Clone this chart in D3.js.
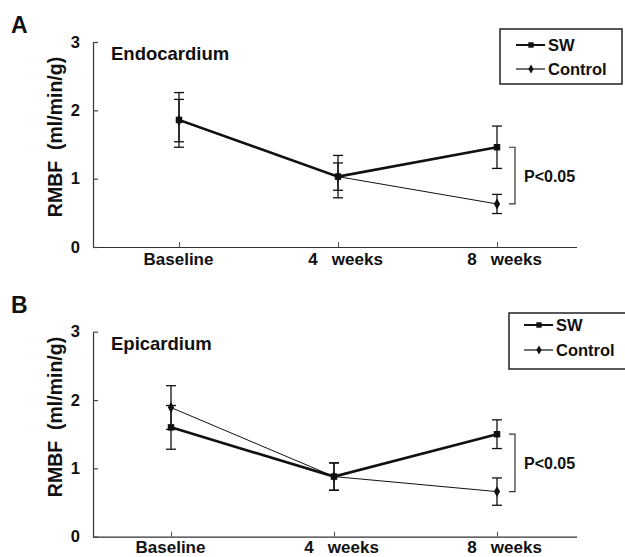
<!DOCTYPE html>
<html>
<head>
<meta charset="utf-8">
<script src="https://cdn.jsdelivr.net/npm/d3@7"></script>
<style>
  body { margin: 0; background: #fff; }
  text { font-family: "Liberation Sans", Arial, sans-serif; font-weight: bold; fill: #111; }
</style>
</head>
<body>
<script>
// time points (weeks) and their labels
var weeks = [0, 4, 8];
var weekLabels = ["Baseline", "4   weeks", "8   weeks"];

// Endocardium (panel A)
var endoSW = [1.86, 1.03, 1.46];
var endoSWErr = [0.40, 0.31, 0.31];
var endoCtl = [1.85, 1.03, 0.63];
var endoCtlErr = [0.31, 0.20, 0.14];

// Epicardium (panel B)
var epiSW = [1.60, 0.88, 1.50];
var epiSWErr = [0.32, 0.20, 0.21];
var epiCtl = [1.89, 0.88, 0.66];
var epiCtlErr = [0.32, 0.20, 0.20];

var yTicks = [0, 1, 2, 3];

var svg = d3.select("body").append("svg")
  .attr("width", 625)
  .attr("height", 557);

function drawPanel(opt) {
  var g = svg.append("g");

  var x = d3.scaleLinear().domain([0, 8]).range(opt.xr);
  var y = d3.scaleLinear().domain([0, 3]).range([opt.y0, opt.y0 - 205]);

  // panel letter
  g.append("text").attr("x", 11).attr("y", opt.letterY)
    .style("font-size", "23px").text(opt.letter);

  // x axis
  var xa = g.append("g").attr("transform", "translate(0," + opt.y0 + ")")
    .call(d3.axisBottom(x).tickValues(weeks).tickSizeInner(-5).tickSizeOuter(0).tickPadding(opt.xPad)
      .tickFormat(function(d, i) { return weekLabels[i]; }));
  xa.select(".domain").attr("d", "M93,0.5H577").attr("stroke", "#333").attr("stroke-width", 1.2);
  xa.selectAll(".tick line").attr("stroke", "#555");
  xa.selectAll(".tick text").style("font-size", "17px").style("white-space", "pre")
    .attr("fill", "#111")
    .attr("dx", function(d, i) { return i === 0 ? -1 : 7; });

  // y axis
  var ya = g.append("g").attr("transform", "translate(93,0)")
    .call(d3.axisLeft(y).tickValues(yTicks).tickSizeInner(-5).tickSizeOuter(0).tickPadding(13)
      .tickFormat(d3.format("d")));
  ya.select(".domain").attr("stroke", "#333").attr("stroke-width", 1.2);
  ya.selectAll(".tick line").attr("stroke", "#444").attr("stroke-width", 1.2);
  ya.selectAll(".tick text").style("font-size", "16.5px").attr("fill", "#111");

  // y label
  g.append("text")
    .attr("transform", "translate(62," + opt.labelY + ") rotate(-90)")
    .attr("text-anchor", "middle")
    .style("font-size", "19.5px").style("white-space", "pre")
    .text("RMBF  (ml/min/g)");

  // panel title
  g.append("text").attr("x", 111).attr("y", opt.y0 - 187)
    .style("font-size", "18.5px").text(opt.title);

  var series = [
    { v: opt.sw, e: opt.swErr, w: 2.6, shape: d3.symbolSquare, size: 42 },
    { v: opt.ctl, e: opt.ctlErr, w: 1, shape: d3.symbolDiamond, size: 34 }
  ];

  series.forEach(function(s) {
    // error bars
    var eb = g.append("g");
    weeks.forEach(function(wk, i) {
      var lo = y(s.v[i] - s.e[i]), hi = y(s.v[i] + s.e[i]), cx = x(wk);
      eb.append("line").attr("x1", cx).attr("x2", cx).attr("y1", lo).attr("y2", hi)
        .attr("stroke", "#111").attr("stroke-width", 1.3);
      [lo, hi].forEach(function(yy) {
        eb.append("line").attr("x1", cx - 5).attr("x2", cx + 5).attr("y1", yy).attr("y2", yy)
          .attr("stroke", "#111").attr("stroke-width", 1.3);
      });
    });
  });

  series.forEach(function(s) {
    var line = d3.line().x(function(d, i) { return x(weeks[i]); }).y(function(d) { return y(d); });
    g.append("path").datum(s.v).attr("d", line)
      .attr("fill", "none").attr("stroke", "#111").attr("stroke-width", s.w);
    g.selectAll(null).data(s.v).enter().append("path")
      .attr("transform", function(d, i) { return "translate(" + x(weeks[i]) + "," + y(d) + ")"; })
      .attr("d", d3.symbol().type(s.shape).size(s.size))
      .attr("fill", "#111");
  });

  // significance bracket at 8 weeks
  var bTop = y(opt.sw[2]), bBot = y(opt.ctl[2]);
  g.append("path")
    .attr("d", "M509," + bTop + "H515V" + bBot + "H509")
    .attr("fill", "none").attr("stroke", "#333").attr("stroke-width", 1.2);
  g.append("text").attr("x", 524).attr("y", (bTop + bBot) / 2 + 6)
    .style("font-size", "16px").text("P<0.05");

  // legend
  var L = opt.legend;
  g.append("rect").attr("x", L.x).attr("y", L.y).attr("width", L.w).attr("height", L.h)
    .attr("fill", "#fff").attr("stroke", "#222").attr("stroke-width", 1.5);
  var names = ["SW", "Control"];
  series.forEach(function(s, i) {
    var ly = L.y + L.row0 + i * L.gap;
    g.append("line").attr("x1", L.x + L.lx).attr("x2", L.x + L.lx + 29)
      .attr("y1", ly).attr("y2", ly).attr("stroke", "#111").attr("stroke-width", i === 0 ? 2 : 1.2);
    g.append("path").attr("transform", "translate(" + (L.x + L.lx + 15) + "," + ly + ")")
      .attr("d", d3.symbol().type(s.shape).size(s.size * 0.7)).attr("fill", "#111");
    g.append("text").attr("x", L.x + L.lx + 32).attr("y", ly + 6)
      .style("font-size", "16.5px").text(names[i]);
  });
}

drawPanel({
  letter: "A", letterY: 33, labelY: 137, xPad: 6, title: "Endocardium", y0: 247, xr: [179, 497],
  sw: endoSW, swErr: endoSWErr, ctl: endoCtl, ctlErr: endoCtlErr,
  legend: { x: 500, y: 29, w: 122, h: 55, lx: 16, row0: 16, gap: 24 }
});

drawPanel({
  letter: "B", letterY: 313, labelY: 417, xPad: 4, title: "Epicardium", y0: 536.7, xr: [171, 497],
  sw: epiSW, swErr: epiSWErr, ctl: epiCtl, ctlErr: epiCtlErr,
  legend: { x: 509, y: 313, w: 125, h: 56, lx: 15, row0: 12, gap: 25 }
});
</script>
</body>
</html>
